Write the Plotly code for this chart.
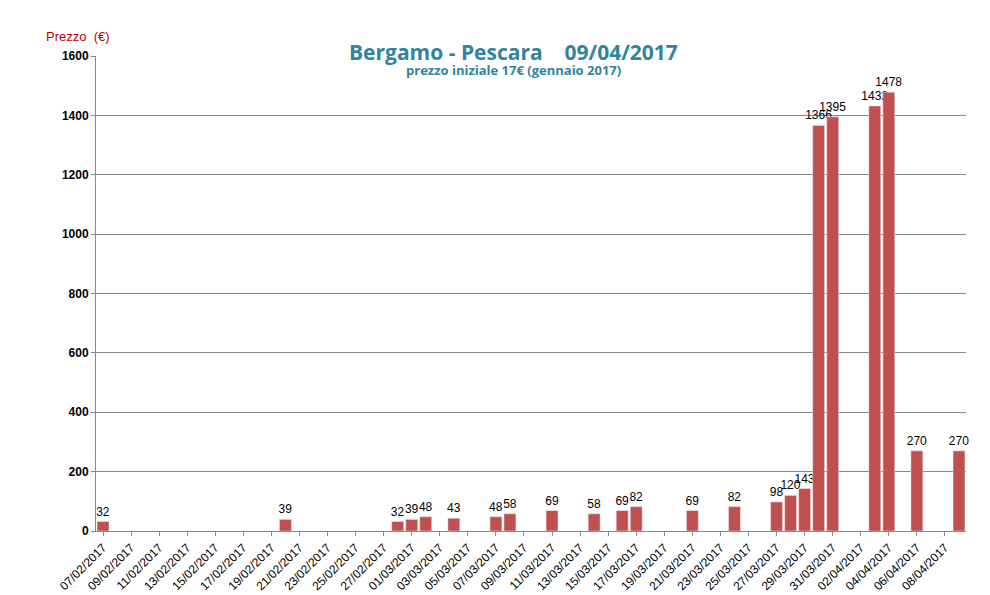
import plotly.graph_objects as go
import pandas as pd

bar_dates = ["07/02/2017","20/02/2017","28/02/2017","01/03/2017","02/03/2017","04/03/2017",
             "07/03/2017","08/03/2017","11/03/2017","14/03/2017","16/03/2017","17/03/2017",
             "21/03/2017","24/03/2017","27/03/2017","28/03/2017","29/03/2017","30/03/2017",
             "31/03/2017","03/04/2017","04/04/2017","06/04/2017","09/04/2017"]
prices = [32,39,32,39,48,43,48,58,69,58,69,82,69,82,98,120,143,1366,1395,1432,1478,270,270]

all_dates = [d.strftime("%d/%m/%Y") for d in pd.date_range("2017-02-07", "2017-04-09")]
tick_labels = all_dates[::2]

fig = go.Figure(go.Bar(
    x=bar_dates, y=prices, marker_color="#C0504D", width=0.85,
    text=[str(p) for p in prices], textposition="outside", cliponaxis=False,
    constraintext="none", textfont=dict(size=12, color="#000")))

fig.update_layout(
    width=990, height=595, plot_bgcolor="white", paper_bgcolor="white",
    margin=dict(l=88, r=32, t=48, b=72, autoexpand=False), showlegend=False,
    font=dict(family="Liberation Sans", size=11, color="#000"),
    uniformtext=dict(minsize=12, mode="show"),
    annotations=[
        dict(text="<b>Bergamo - Pescara    09/04/2017</b>", x=0.48, y=1.0, xref="paper", yref="paper",
             xanchor="center", yanchor="bottom", yshift=-12, showarrow=False,
             font=dict(size=21, color="#31849B", family="Open Sans")),
        dict(text="<b>prezzo iniziale 17€ (gennaio 2017)</b>", x=0.48, y=1.0, xref="paper", yref="paper",
             xanchor="center", yanchor="top", yshift=-3, showarrow=False,
             font=dict(size=13, color="#31859C", family="Open Sans")),
        dict(text="Prezzo  (€)", x=-0.06, y=1.06, xref="paper", yref="paper", showarrow=False,
             font=dict(size=13, color="#C00000"), xanchor="left"),
    ],
)
fig.update_xaxes(type="category", categoryorder="array", categoryarray=all_dates,
                 tickvals=tick_labels, ticktext=tick_labels, tickangle=-45, automargin=False,
                 showline=True, linecolor="#888", ticks="outside", ticklen=4, tickcolor="#888",
                 tickfont=dict(size=12), range=[-0.5, len(all_dates)-0.5])
fig.update_yaxes(range=[0, 1600], dtick=200, showgrid=True, gridcolor="#888", gridwidth=1, automargin=False,
                 showline=True, linecolor="#888", ticks="outside", ticklen=4, tickcolor="#888",
                 tickfont=dict(size=12, family="Liberation Sans", weight="bold"), tickformat="d")
fig.write_html("out.html")
